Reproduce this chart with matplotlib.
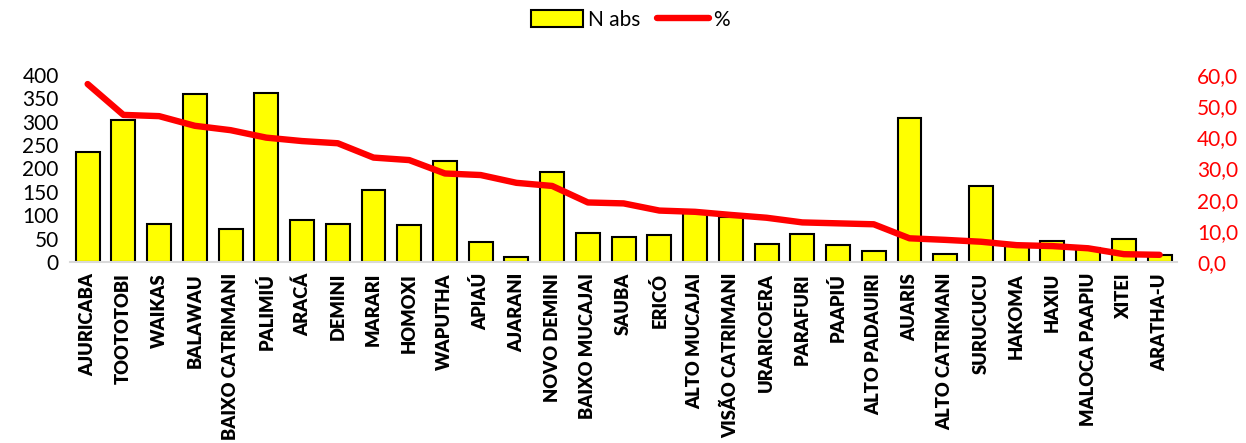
import matplotlib.pyplot as plt
from matplotlib.ticker import FuncFormatter

plt.rcParams["font.family"] = ["Lato", "DejaVu Sans"]

aldeias = [
    "AJURICABA", "TOOTOTOBI", "WAIKAS", "BALAWAU", "BAIXO CATRIMANI",
    "PALIMIÚ", "ARACÁ", "DEMINI", "MARARI", "HOMOXI", "WAPUTHA", "APIAÚ",
    "AJARANI", "NOVO DEMINI", "BAIXO MUCAJAI", "SAUBA", "ERICÓ",
    "ALTO MUCAJAI", "VISÃO CATRIMANI", "URARICOERA", "PARAFURI", "PAAPIÚ",
    "ALTO PADAUIRI", "AUARIS", "ALTO CATRIMANI", "SURUCUCU", "HAKOMA",
    "HAXIU", "MALOCA PAAPIU", "XITEI", "ARATHA-U",
]
n_abs = [
    236, 304, 81, 359, 71, 362, 89, 81, 153, 80, 216, 43, 11, 192, 61,
    54, 58, 104, 97, 39, 60, 37, 24, 309, 18, 163, 35, 45, 30, 49, 16,
]
pct = [
    57.1, 47.2, 46.8, 43.7, 42.3, 39.9, 38.8, 38.1, 33.5, 32.7, 28.4,
    27.9, 25.4, 24.4, 19.1, 18.8, 16.5, 16.1, 15.1, 14.2, 12.7, 12.4,
    12.1, 7.6, 7.1, 6.5, 5.4, 5.1, 4.4, 2.5, 2.3,
]

fig = plt.figure(figsize=(12.46, 4.43), dpi=100)
ax = fig.add_axes([0.056, 0.4086, 0.889, 0.4221])
ax2 = ax.twinx()

x = range(len(aldeias))
bars = ax.bar(x, n_abs, width=0.67, color="#ffff00", edgecolor="black",
              linewidth=1.5, label="N abs", zorder=2)
line, = ax2.plot(x, pct, color="#ff0000", linewidth=4.6,
                 solid_capstyle="round", label="%", zorder=3)

ax.set_xlim(-0.5, len(aldeias) - 0.5)
ax.set_ylim(0, 400)
ax.set_yticks(range(0, 401, 50))
ax2.set_ylim(0, 60)
ax2.set_yticks(range(0, 61, 10))
ax2.yaxis.set_major_formatter(FuncFormatter(lambda v, p: f"{v:.1f}".replace(".", ",")))

ax.set_xticks(list(x))
ax.set_xticklabels(aldeias, rotation=90, fontsize=13.2, fontweight="heavy")

for a in (ax, ax2):
    for side in ("top", "left", "right", "bottom"):
        a.spines[side].set_visible(False)
ax.spines["bottom"].set_visible(True)
ax.spines["bottom"].set_color("#d9d9d9")
ax.spines["bottom"].set_linewidth(1.5)

ax.tick_params(axis="y", length=0, labelsize=15, pad=8)
ax.tick_params(axis="x", length=0, pad=8)
ax2.tick_params(axis="y", length=0, labelsize=15, labelcolor="#ff0000", pad=14)

fig.legend([bars, line], ["N abs", "%"], loc="center", bbox_to_anchor=(0.506, 0.955),
           ncol=2, frameon=False, fontsize=15, handlelength=2.5,
           handleheight=0.9, columnspacing=0.8, handletextpad=0.2)

fig.savefig("out.png", dpi=100)
